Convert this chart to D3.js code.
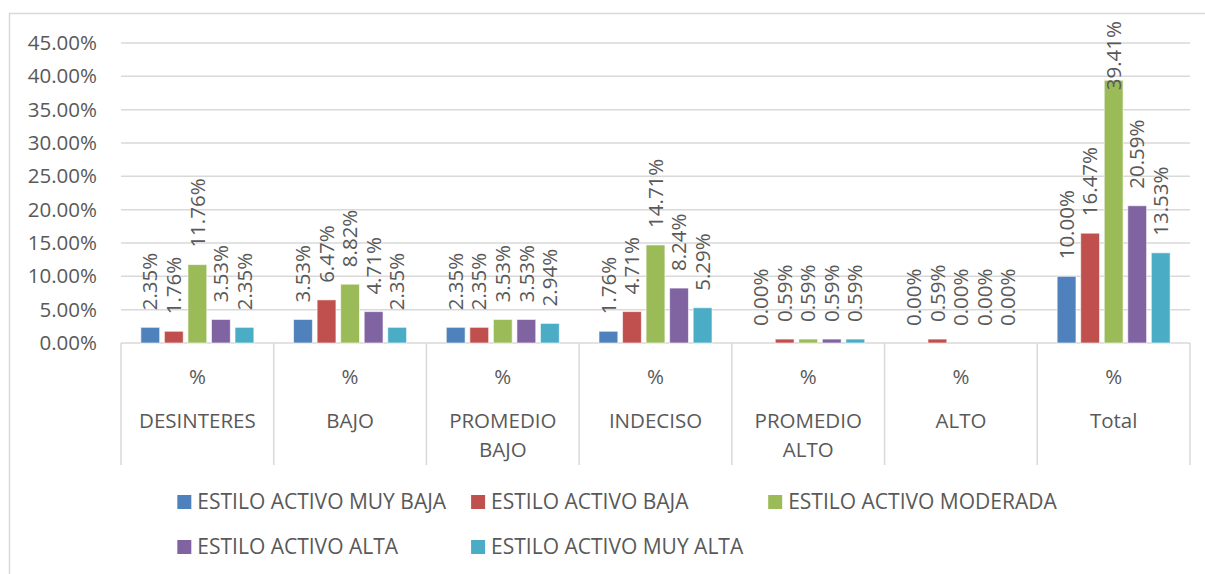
<!DOCTYPE html>
<html>
<head>
<meta charset="utf-8">
<script src="https://cdn.jsdelivr.net/npm/d3@7"></script>
<style>
  body { margin: 0; background: #fff; }
  text { font-family: "Open Sans", "Noto Sans", sans-serif; fill: #595959; }
</style>
</head>
<body>
<div id="chart"></div>
<script>
// data
var categories = ['DESINTERES', 'BAJO', 'PROMEDIO BAJO', 'INDECISO', 'PROMEDIO ALTO', 'ALTO', 'Total'];
var series = ['ESTILO ACTIVO MUY BAJA', 'ESTILO ACTIVO BAJA', 'ESTILO ACTIVO MODERADA', 'ESTILO ACTIVO ALTA', 'ESTILO ACTIVO MUY ALTA'];
var muyBaja  = [2.35, 3.53, 2.35, 1.76, 0.00, 0.00, 10.00];
var baja     = [1.76, 6.47, 2.35, 4.71, 0.59, 0.59, 16.47];
var moderada = [11.76, 8.82, 3.53, 14.71, 0.59, 0.00, 39.41];
var alta     = [3.53, 4.71, 3.53, 8.24, 0.59, 0.00, 20.59];
var muyAlta  = [2.35, 2.35, 2.94, 5.29, 0.59, 0.00, 13.53];
var yTicks = [0, 5, 10, 15, 20, 25, 30, 35, 40, 45];
var colors = ['#4F81BD', '#C0504D', '#9BBB59', '#8064A2', '#4BACC6'];

var values = [muyBaja, baja, moderada, alta, muyAlta];

var W = 1205, H = 574;
var margin = {top: 43, left: 121, right: 15, bottom: 231};
var width = W - margin.left - margin.right,
    height = H - margin.top - margin.bottom;
var fs = '20.5px';

var svg = d3.select('#chart').append('svg')
    .attr('width', W)
    .attr('height', H);

// chart border
svg.append('path')
    .attr('d', 'M9.5,' + H + 'V13.5H' + W)
    .attr('fill', 'none')
    .attr('stroke', '#D9D9D9')
    .attr('stroke-width', 1.5);

var plot = svg.append('g')
    .attr('transform', `translate(${margin.left}, ${margin.top})`);

var x0 = d3.scaleBand()
    .domain(categories)
    .range([0, width])
    .paddingInner(0)
    .paddingOuter(0);

var x1 = d3.scaleBand()
    .domain(d3.range(series.length))
    .range([x0.bandwidth() * 0.13, x0.bandwidth() * 0.87])
    .paddingInner(0.2);

var y = d3.scaleLinear()
    .domain([0, 45])
    .range([height, 0]);

// gridlines
plot.append('g')
    .selectAll('line')
    .data(yTicks.slice(1))
    .enter()
    .append('line')
    .attr('x1', 0)
    .attr('x2', width)
    .attr('y1', d => y(d))
    .attr('y2', d => y(d))
    .attr('stroke', '#D9D9D9')
    .attr('stroke-width', 1.5);

// y axis
var yAxis = d3.axisLeft(y)
    .tickValues(yTicks)
    .tickSize(0)
    .tickPadding(24)
    .tickFormat(d => d.toFixed(2) + '%');

plot.append('g')
    .attr('class', 'axis y')
    .call(yAxis)
    .call(g => g.select('.domain').remove())
    .selectAll('text')
    .style('font-size', fs)
    .attr('fill', '#595959');

// category axis lines
var sepBottom = 465 - margin.top;
plot.append('line')
    .attr('x1', 0).attr('x2', width)
    .attr('y1', height).attr('y2', height)
    .attr('stroke', '#D9D9D9').attr('stroke-width', 1.5);

plot.append('g')
    .selectAll('line')
    .data(categories.concat(['end']))
    .enter()
    .append('line')
    .attr('x1', (d, i) => i * x0.bandwidth())
    .attr('x2', (d, i) => i * x0.bandwidth())
    .attr('y1', height)
    .attr('y2', sepBottom)
    .attr('stroke', '#D9D9D9')
    .attr('stroke-width', 1.5);

var catLabels = plot.append('g')
    .selectAll('g')
    .data(categories)
    .enter()
    .append('g')
    .attr('transform', d => `translate(${x0(d) + x0.bandwidth() / 2}, ${height})`);

catLabels.append('text')
    .attr('y', 34)
    .attr('dy', '0.35em')
    .style('text-anchor', 'middle')
    .style('font-size', fs)
    .text('%');

catLabels.each(function (d) {
    var words = d.split(' ');
    var g = d3.select(this);
    words.forEach(function (w, i) {
        g.append('text')
            .attr('y', 78 + i * 29)
            .attr('dy', '0.35em')
            .style('text-anchor', 'middle')
            .style('font-size', fs)
            .text(w);
    });
});

// bars
var groups = plot.append('g')
    .selectAll('g')
    .data(categories)
    .enter()
    .append('g')
    .attr('transform', d => `translate(${x0(d)}, 0)`);

groups.selectAll('rect')
    .data((d, ci) => values.map((s, si) => ({si: si, v: s[ci]})))
    .enter()
    .append('rect')
    .attr('x', d => x1(d.si))
    .attr('y', d => y(d.v))
    .attr('width', x1.bandwidth())
    .attr('height', d => y(0) - y(d.v))
    .attr('fill', d => colors[d.si])
    .attr('stroke', d => d.v > 0 ? 'rgba(255,255,255,0.6)' : 'none')
    .attr('stroke-width', 1);

// value labels, rotated
groups.selectAll('.label')
    .data((d, ci) => values.map((s, si) => ({si: si, v: s[ci]})))
    .enter()
    .append('text')
    .attr('class', 'label')
    .style('font-size', fs)
    .style('text-anchor', 'start')
    .attr('dy', '0.35em')
    .text(d => d.v.toFixed(2) + '%')
    .each(function (d) {
        var len = this.getComputedTextLength();
        var start = y(d.v) - 17;
        var minStart = (21 - margin.top) + len;
        if (start < minStart) start = minStart;
        var cx = x1(d.si) + x1.bandwidth() / 2;
        d3.select(this).attr('transform', `translate(${cx}, ${start}) rotate(-90)`);
    });

// legend
var legend = svg.append('g');
var legendItems = legend.selectAll('g')
    .data(series)
    .enter()
    .append('g');

legendItems.append('rect')
    .attr('width', 14)
    .attr('height', 14)
    .attr('y', -7)
    .attr('fill', (d, i) => colors[i]);

legendItems.append('text')
    .attr('x', 20)
    .attr('dy', '0.35em')
    .style('font-size', '21px')
    .text(d => d);

var nCols = 3;
var itemW = [];
legendItems.each(function (d, i) {
    itemW[i] = 20 + d3.select(this).select('text').node().getComputedTextLength();
});
var colW = [];
for (var c = 0; c < nCols; c++) {
    colW[c] = d3.max(itemW.filter((w, i) => i % nCols === c));
}
var gap = 25;
var colX = [0];
for (var c = 1; c < nCols; c++) colX[c] = colX[c - 1] + colW[c - 1] + gap;
var totalW = colX[nCols - 1] + colW[nCols - 1];
var legendX = 617 - totalW / 2;

legendItems.attr('transform', (d, i) =>
    `translate(${legendX + colX[i % nCols]}, ${502 + Math.floor(i / nCols) * 45})`);
</script>
</body>
</html>
